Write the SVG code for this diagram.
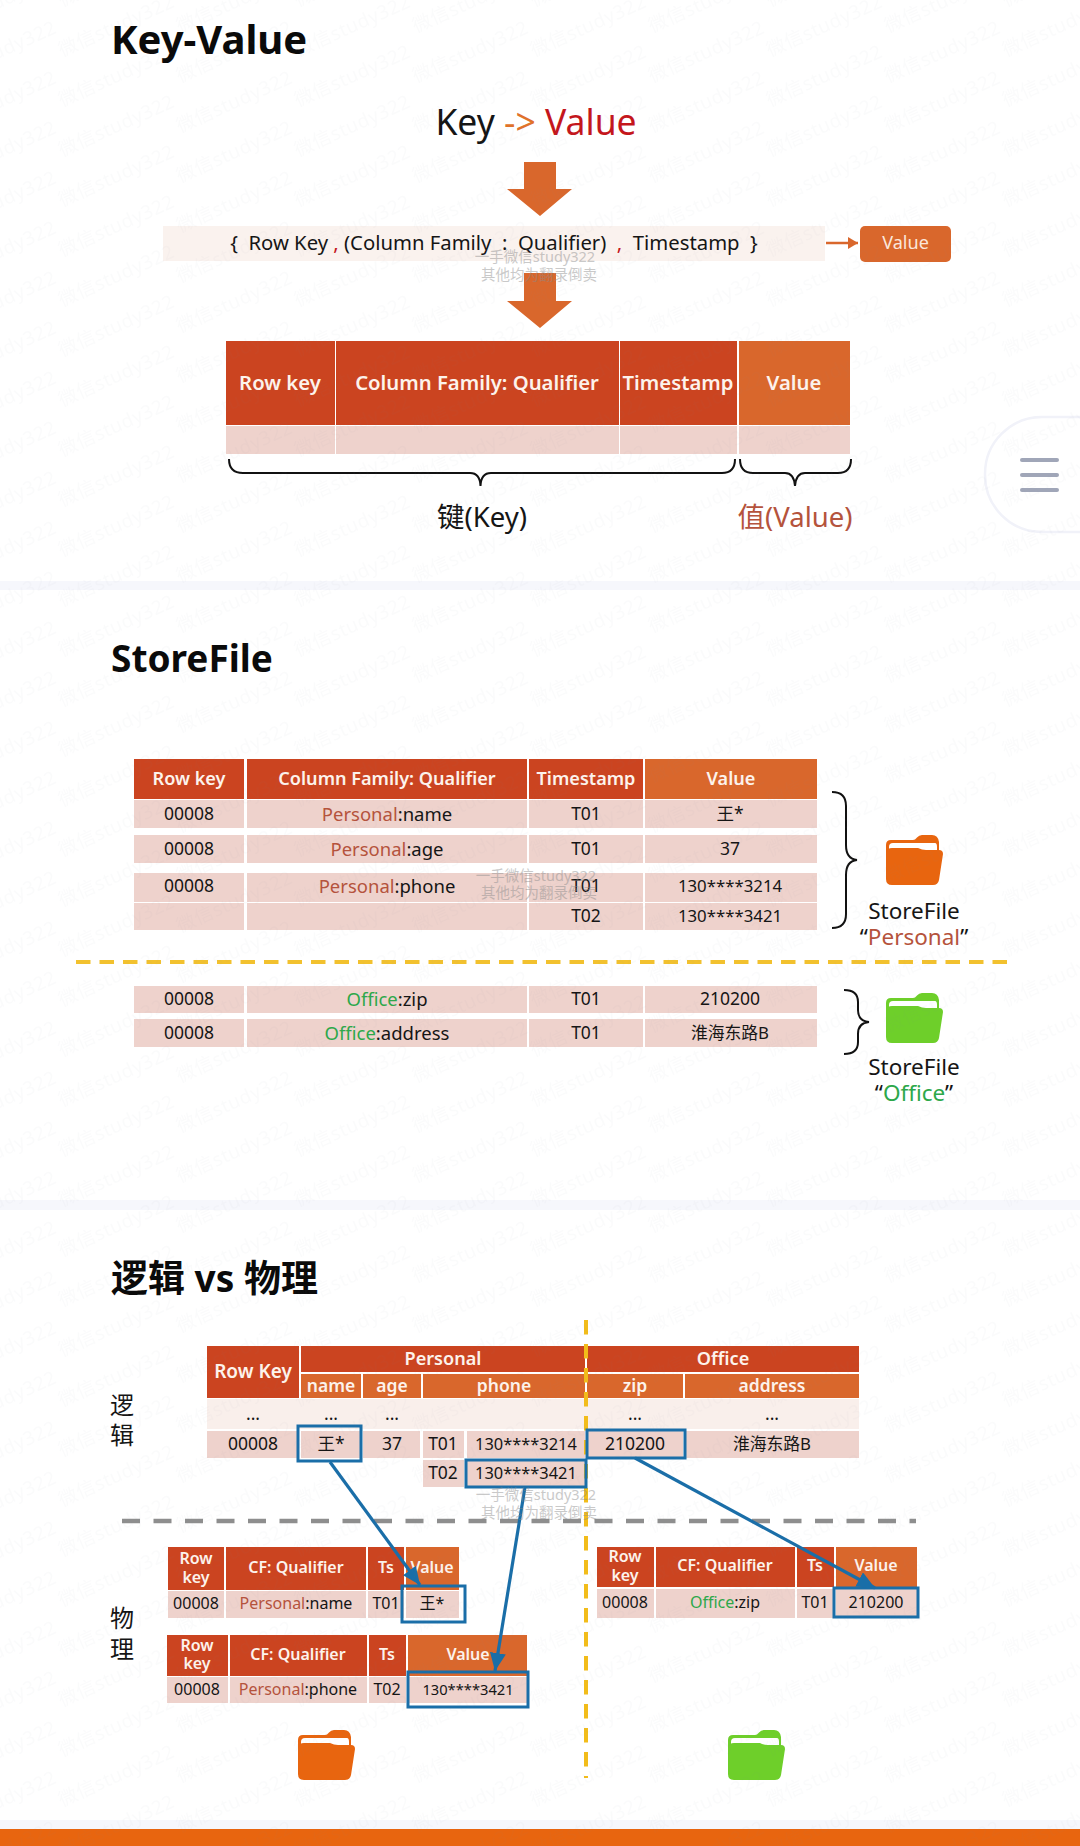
<svg xmlns="http://www.w3.org/2000/svg" width="1080" height="1846" viewBox="0 0 1080 1846">
<style>
text{font-family:"Noto Sans","Noto Sans CJK SC",sans-serif;text-anchor:middle;dominant-baseline:central;fill:#151515;white-space:pre}
text:not(.tile){transform:translateY(-1px)}
.title{font-size:37px;font-weight:700;text-anchor:start;fill:#0a0a0a}
.h{fill:#cb4420}.v{fill:#d9672c}.r{fill:#eed2cc}.l{fill:#f9efeb}
.w{fill:#fdf3ec;font-weight:600}
.f22{font-size:22.500px}.f20{font-size:20.300px}.f18{font-size:18.100px}.f17{font-size:17.500px}.f15{font-size:16px}.f24{font-size:24px}.f28{font-size:27.500px}
.n1{font-size:16.800px}.n2{font-size:16.400px}.n3{font-size:14.700px}.q{font-size:18.500px}
.p{fill:#b5533c}.g{fill:#2da84a}
.blue{fill:none;stroke:#1a6ea8;stroke-width:3}
.link{stroke:#1a6ea8;stroke-width:3.200;fill:none;marker-end:url(#bh)}
.brace{fill:none;stroke:#111;stroke-width:2}
.wm{font-size:14.500px;fill:#8a8a8a;opacity:.45}
.tile{font-size:19px;fill:#7a7f95;letter-spacing:.5px;text-anchor:start;dominant-baseline:auto}
</style>
<defs>
<marker id="bh" markerUnits="userSpaceOnUse" markerWidth="20" markerHeight="16" refX="18" refY="8" orient="auto"><path d="M0 0L18 8L0 16z" fill="#1a6ea8"/></marker>
<marker id="oh" markerUnits="userSpaceOnUse" markerWidth="12" markerHeight="12" refX="10" refY="6" orient="auto"><path d="M0 0L10 6L0 12z" fill="#d9672c"/></marker>
<symbol id="folder" viewBox="0 0 57 50">
<path fill="currentColor" d="M0 10Q0 5 5 5H27Q29 5 31 2.500Q33 0 36 0H46Q52 0 53 7V30H0z"/>
<path fill="#fff" d="M3 12Q3 8 7 8H49Q51 8 51 12V20H3z"/>
<path fill="currentColor" d="M0 18Q1 13 6 13H32Q36 15 40 15H53Q57 15 57 19L53 45Q52 50 47 50H6Q0 50 0 44z"/>
</symbol>
<pattern id="wmp" patternUnits="userSpaceOnUse" width="236" height="50">
<g>
<text class="tile" transform="translate(62 7) rotate(-24)">微信study322</text>
<text class="tile" transform="translate(62 57) rotate(-24)">微信study322</text>
<text class="tile" transform="translate(62 107) rotate(-24)">微信study322</text>
<text class="tile" transform="translate(180 33) rotate(-24)">微信study322</text>
<text class="tile" transform="translate(180 83) rotate(-24)">微信study322</text>
<text class="tile" transform="translate(-56 33) rotate(-24)">微信study322</text>
<text class="tile" transform="translate(-56 83) rotate(-24)">微信study322</text>
</g>
</pattern>
</defs>
<rect width="1080" height="1846" fill="#fff"/>
<rect id="band1" y="581" width="1080" height="9" fill="#f6f7fc"/>
<rect id="band2" y="1200" width="1080" height="10" fill="#f6f7fc"/>
<rect id="band3" y="1820" width="1080" height="9" fill="#f6f7fc"/>
<rect id="footer" y="1829" width="1080" height="17" fill="#e8650f"/>

<text class="title" x="111" y="39" style="font-size:40px">Key-Value</text>
<text class="title" x="111" y="658">StoreFile</text>
<text class="title" x="111" y="1278">逻辑 vs 物理</text>

<g id="kv-formula">
<text x="536" y="122" font-size="35.500">Key <tspan fill="#e0722a">-&gt;</tspan> <tspan fill="#c4161c">Value</tspan></text>
</g>
<g id="kv-arrows" fill="#d9672c">
<path d="M524 162H556V189H572L540 216L507 189H524z"/>
<path d="M524 273H556V301H572L540 328L507 301H524z"/>
</g>
<g id="kv-bar">
<rect x="163" y="226" width="662" height="35" class="l" style="fill:#faf2ee"/>
<text class="f20" x="494" y="243">{  Row Key <tspan fill="#c4161c">,</tspan> (Column Family  :  Qualifier)  <tspan fill="#c4161c">,</tspan>  Timestamp  }</text>
</g>
<g id="kv-value">
<rect x="860" y="226" width="91" height="36" rx="5" class="v"/>
<text class="f18" x="905.500" y="243" style="fill:#fbe6da">Value</text>
</g>
<g id="kv-table">
<rect class="h" x="226" y="341" width="109" height="84"/>
<rect class="h" x="336" y="341" width="283" height="84"/>
<rect class="h" x="620" y="341" width="117" height="84"/>
<rect class="v" x="739" y="341" width="111" height="84"/>
<rect class="r" x="226" y="426" width="109" height="28"/>
<rect class="r" x="336" y="426" width="283" height="28"/>
<rect class="r" x="620" y="426" width="117" height="28"/>
<rect class="r" x="739" y="426" width="111" height="28"/>
<text class="w f20" x="280" y="383">Row key</text>
<text class="w f20" x="477" y="383">Column Family: Qualifier</text>
<text class="w f20" x="678" y="383">Timestamp</text>
<text class="w f20" x="794" y="383">Value</text>
</g>
<g id="kv-braces">
<path class="brace" d="M229 459Q229 473 243 473H470Q480 473 480.500 486Q481 473 491 473H722Q735 473 735 459"/>
<path class="brace" d="M740 459Q740 473 753 473H785Q794 473 795 486Q796 473 805 473H838Q851 473 851 459"/>
<text class="f28" x="482" y="517">键(Key)</text>
<text class="f28 p" x="795" y="517">值(Value)</text>
</g>
<path id="kv-small-arrow" d="M826 243H858" stroke="#d9672c" stroke-width="2.500" fill="none" marker-end="url(#oh)"/>

<g id="menu-tab">
<path d="M1080 417H1042A57 57 0 0 0 985 474V475A57 57 0 0 0 1042 532H1080" fill="#fff" stroke="#f1f2f9" stroke-width="2.500"/>
<g fill="#a0a6b8"><rect x="1020" y="458" width="39" height="4" rx="2"/><rect x="1020" y="473" width="39" height="4" rx="2"/><rect x="1020" y="488" width="39" height="4" rx="2"/></g>
</g>

<g id="sf-table">
<rect class="h" x="134" y="759" width="110" height="40"/><rect class="h" x="247" y="759" width="280" height="40"/><rect class="h" x="529" y="759" width="114" height="40"/><rect class="v" x="645" y="759" width="172" height="40"/>
<text class="w f18" x="189" y="779">Row key</text><text class="w f18" x="387" y="779">Column Family: Qualifier</text><text class="w f18" x="586" y="779">Timestamp</text><text class="w f18" x="731" y="779">Value</text>
<g class="r">
<rect x="134" y="800" width="110" height="28"/><rect x="247" y="800" width="280" height="28"/><rect x="529" y="800" width="114" height="28"/><rect x="645" y="800" width="172" height="28"/>
<rect x="134" y="835" width="110" height="28"/><rect x="247" y="835" width="280" height="28"/><rect x="529" y="835" width="114" height="28"/><rect x="645" y="835" width="172" height="28"/>
<rect x="134" y="873" width="110" height="29"/><rect x="247" y="873" width="280" height="29"/><rect x="529" y="873" width="114" height="29"/><rect x="645" y="873" width="172" height="29"/>
<rect x="134" y="903" width="110" height="27"/><rect x="247" y="903" width="280" height="27"/><rect x="529" y="903" width="114" height="27"/><rect x="645" y="903" width="172" height="27"/>
<rect x="134" y="986" width="110" height="27"/><rect x="247" y="986" width="280" height="27"/><rect x="529" y="986" width="114" height="27"/><rect x="645" y="986" width="172" height="27"/>
<rect x="134" y="1019" width="110" height="28"/><rect x="247" y="1019" width="280" height="28"/><rect x="529" y="1019" width="114" height="28"/><rect x="645" y="1019" width="172" height="28"/>
</g>
<g>
<text class="f17" x="189" y="814">00008</text><text class="q" x="387" y="814"><tspan class="p">Personal</tspan>:name</text><text class="f17" x="586" y="814">T01</text><text class="f17" x="730" y="814">王*</text>
<text class="f17" x="189" y="849">00008</text><text class="q" x="387" y="849"><tspan class="p">Personal</tspan>:age</text><text class="f17" x="586" y="849">T01</text><text class="f17" x="730" y="849">37</text>
<text class="f17" x="189" y="886">00008</text><text class="q" x="387" y="886"><tspan class="p">Personal</tspan>:phone</text><text class="f17" x="586" y="886">T01</text><text class="n1" x="730" y="886">130****3214</text>
<text class="f17" x="586" y="916">T02</text><text class="n1" x="730" y="916">130****3421</text>
<text class="f17" x="189" y="999">00008</text><text class="q" x="387" y="999"><tspan class="g">Office</tspan>:zip</text><text class="f17" x="586" y="999">T01</text><text class="f17" x="730" y="999">210200</text>
<text class="f17" x="189" y="1033">00008</text><text class="q" x="387" y="1033"><tspan class="g">Office</tspan>:address</text><text class="f17" x="586" y="1033">T01</text><text class="n1" x="730" y="1033">淮海东路B</text>
</g>
</g>
<path id="sf-divider" d="M76 962H1012" stroke="#f2c12e" stroke-width="4" stroke-dasharray="14.500 9" fill="none"/>
<g id="sf-personal">
<path class="brace" d="M832 792Q846 792 846 806V845Q846 859 857 860Q846 861 846 875V914Q846 928 832 928"/>
<use href="#folder" x="886" y="835" width="57" height="50" color="#e8650f"/>
<text class="f22" x="914" y="911">StoreFile</text>
<text class="f22" x="914" y="937">“<tspan class="p">Personal</tspan>”</text>
</g>
<g id="sf-office">
<path class="brace" d="M844 990Q858 990 858 1002V1010Q858 1021 869 1022Q858 1023 858 1034V1042Q858 1054 844 1054"/>
<use href="#folder" x="886" y="993" width="57" height="50" color="#6ecf2a"/>
<text class="f22" x="914" y="1067">StoreFile</text>
<text class="f22" x="914" y="1093">“<tspan class="g">Office</tspan>”</text>
</g>

<g id="lp-labels">
<text class="f24" x="122" y="1405">逻</text><text class="f24" x="122" y="1435">辑</text>
<text class="f24" x="122" y="1618">物</text><text class="f24" x="122" y="1649">理</text>
</g>
<g id="logical-table">
<rect class="h" x="207" y="1346" width="92" height="52"/>
<rect class="h" x="301" y="1346" width="284" height="26"/><rect class="h" x="587" y="1346" width="272" height="26"/>
<rect class="v" x="301" y="1374" width="60" height="24"/><rect class="v" x="363" y="1374" width="58" height="24"/><rect class="v" x="423" y="1374" width="162" height="24"/><rect class="v" x="587" y="1374" width="96" height="24"/><rect class="v" x="685" y="1374" width="174" height="24"/>
<rect class="l" x="207" y="1399" width="652" height="30"/>
<g class="r"><rect x="207" y="1431" width="92" height="27"/><rect x="301" y="1431" width="60" height="27"/><rect x="363" y="1431" width="57" height="27"/><rect x="423" y="1431" width="41" height="27"/><rect x="467" y="1431" width="118" height="27"/><rect x="587" y="1431" width="96" height="27"/><rect x="685" y="1431" width="174" height="27"/><rect x="423" y="1460" width="41" height="27"/><rect x="467" y="1460" width="118" height="27"/></g>
<text class="w f18" x="253" y="1372" style="font-size:19px">Row Key</text><text class="w f18" x="443" y="1359">Personal</text><text class="w f18" x="723" y="1359">Office</text>
<text class="w f17" x="331" y="1386">name</text><text class="w f17" x="392" y="1386">age</text><text class="w f17" x="504" y="1386">phone</text><text class="w f17" x="635" y="1386">zip</text><text class="w f17" x="772" y="1386">address</text>
<text class="f17" x="253" y="1414">...</text><text class="f17" x="331" y="1414">...</text><text class="f17" x="392" y="1414">...</text><text class="f17" x="635" y="1414">...</text><text class="f17" x="772" y="1414">...</text>
<text class="f17" x="253" y="1444">00008</text><text class="f17" x="331" y="1444">王*</text><text class="f17" x="392" y="1444">37</text><text class="f17" x="443" y="1444">T01</text><text class="n2" x="526" y="1444">130****3214</text><text class="f17" x="635" y="1444">210200</text><text class="n1" x="772" y="1444">淮海东路B</text>
<text class="f17" x="443" y="1473">T02</text><text class="n2" x="526" y="1473">130****3421</text>
</g>
<path id="gray-divider" d="M122 1521H916" stroke="#8e8e8e" stroke-width="4.500" stroke-dasharray="18 13.500" fill="none"/>
<path id="yellow-divider" d="M586 1320V1778" stroke="#f2bc1a" stroke-width="4" stroke-dasharray="14.500 9.500" fill="none"/>
<g id="physical-1">
<rect class="h" x="168" y="1547" width="56" height="43"/><rect class="h" x="226" y="1547" width="140" height="43"/><rect class="h" x="368" y="1547" width="36" height="43"/><rect class="v" x="406" y="1547" width="53" height="43"/>
<g class="r"><rect x="168" y="1591" width="56" height="27"/><rect x="226" y="1591" width="140" height="27"/><rect x="368" y="1591" width="36" height="27"/><rect x="406" y="1591" width="53" height="27"/></g>
<text class="w f15" x="196" y="1559">Row</text><text class="w f15" x="196" y="1578">key</text><text class="w f15" x="296" y="1568">CF: Qualifier</text><text class="w f15" x="386" y="1568">Ts</text><text class="w f15" x="432" y="1568">Value</text>
<text class="f15" x="196" y="1604">00008</text><text class="f15" x="296" y="1604"><tspan class="p">Personal</tspan>:name</text><text class="f15" x="386" y="1604">T01</text><text class="f15" x="432" y="1604">王*</text>
</g>
<g id="physical-2">
<rect class="h" x="167" y="1635" width="61" height="41"/><rect class="h" x="230" y="1635" width="137" height="41"/><rect class="h" x="369" y="1635" width="37" height="41"/><rect class="v" x="408" y="1635" width="119" height="41"/>
<g class="r"><rect x="167" y="1677" width="61" height="26"/><rect x="230" y="1677" width="137" height="26"/><rect x="369" y="1677" width="37" height="26"/><rect x="408" y="1677" width="119" height="26"/></g>
<text class="w f15" x="197" y="1646">Row</text><text class="w f15" x="197" y="1664">key</text><text class="w f15" x="298" y="1655">CF: Qualifier</text><text class="w f15" x="387" y="1655">Ts</text><text class="w f15" x="468" y="1655">Value</text>
<text class="f15" x="197" y="1690">00008</text><text class="f15" x="298" y="1690"><tspan class="p">Personal</tspan>:phone</text><text class="f15" x="387" y="1690">T02</text><text class="n3" x="468" y="1690">130****3421</text>
</g>
<g id="physical-3">
<rect class="h" x="597" y="1547" width="57" height="40"/><rect class="h" x="656" y="1547" width="139" height="40"/><rect class="h" x="797" y="1547" width="37" height="40"/><rect class="v" x="836" y="1547" width="81" height="40"/>
<g class="r"><rect x="597" y="1589" width="57" height="29"/><rect x="656" y="1589" width="139" height="29"/><rect x="797" y="1589" width="37" height="29"/><rect x="836" y="1589" width="81" height="29"/></g>
<text class="w f15" x="625" y="1557">Row</text><text class="w f15" x="625" y="1576">key</text><text class="w f15" x="725" y="1566">CF: Qualifier</text><text class="w f15" x="815" y="1566">Ts</text><text class="w f15" x="876" y="1566">Value</text>
<text class="f15" x="625" y="1603">00008</text><text class="f15" x="725" y="1603"><tspan class="g">Office</tspan>:zip</text><text class="f15" x="815" y="1603">T01</text><text class="f15" x="876" y="1603">210200</text>
</g>
<use id="folder-personal" href="#folder" x="298" y="1730" width="57" height="50" color="#e8650f"/>
<use id="folder-office" href="#folder" x="728" y="1730" width="57" height="50" color="#6ecf2a"/>
<g id="highlights">
<rect class="blue" x="298" y="1426" width="63" height="35"/>
<rect class="blue" x="466" y="1460" width="120" height="27"/>
<rect class="blue" x="587" y="1430" width="98" height="28"/>
<rect class="blue" x="402" y="1586" width="63" height="36"/>
<rect class="blue" x="408" y="1672" width="120" height="35"/>
<rect class="blue" x="834" y="1588" width="84" height="29"/>
</g>
<g id="connectors">
<path class="link" d="M330 1462L420 1585"/>
<path class="link" d="M525 1487L495 1671"/>
<path class="link" d="M635 1458L875 1588"/>
</g>
<rect id="watermark-tile" width="1080" height="1846" fill="url(#wmp)" opacity=".035"/>
<g id="watermark-center">
<text class="wm" x="535" y="257">一手微信study322</text><text class="wm" x="539" y="275">其他均为翻录倒卖</text>
<text class="wm" x="536" y="876">一手微信study322</text><text class="wm" x="539" y="893">其他均为翻录倒卖</text>
<text class="wm" x="536" y="1495">一手微信study322</text><text class="wm" x="539" y="1513">其他均为翻录倒卖</text>
</g>
</svg>
